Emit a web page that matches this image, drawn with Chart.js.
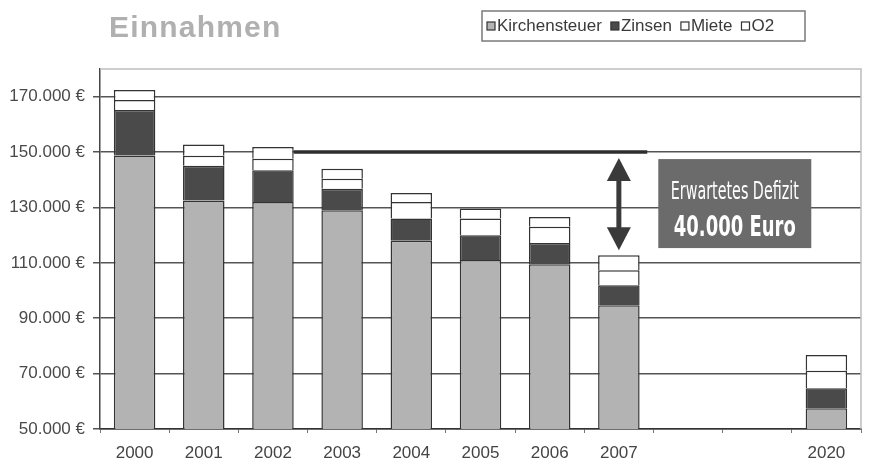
<!DOCTYPE html>
<html>
<head>
<meta charset="utf-8">
<script src="https://cdn.jsdelivr.net/npm/chart.js@4"></script>
<style>
html, body { margin: 0; padding: 0; background: #fff; }
</style>
</head>
<body>
<canvas id="chart" width="869" height="464"></canvas>
<script>
// Einnahmen, gestapelt, in Euro
const years = ['2000', '2001', '2002', '2003', '2004', '2005', '2006', '2007', '', '', '2020'];
const kirchensteuer = [148800, 132500, 132000, 129000, 118000, 111000, 109500, 94700, null, null, 57500];
const zinsen = [16400, 12600, 11400, 7800, 8000, 9000, 7700, 7200, null, null, 7200];
const miete = [3600, 3600, 4200, 3600, 6000, 6000, 5800, 5400, null, null, 6300];
const o2 = [3600, 4000, 4200, 3600, 3200, 3600, 3600, 5400, null, null, 5700];
const yTicks = [50000, 70000, 90000, 110000, 130000, 150000, 170000];
const deficitLevel = 150000;
const deficitLabel = ['Erwartetes Defizit', '40.000 Euro'];

const seriesNames = ['Kirchensteuer', 'Zinsen', 'Miete', 'O2'];
const seriesColors = ['#b3b3b3', '#4a4a4a', '#ffffff', '#ffffff'];

function euro(v) {
    return String(v).replace(/\B(?=(\d{3})+(?!\d))/g, '.') + ' €';
}

const frame = {
    id: 'frame',
    beforeDatasetsDraw(chart) {
        const a = chart.chartArea;
        const c = chart.ctx;
        c.save();
        c.strokeStyle = '#bdbdbd';
        c.lineWidth = 1.5;
        c.beginPath();
        c.moveTo(a.left, a.top);
        c.lineTo(a.right, a.top);
        c.lineTo(a.right, a.bottom);
        c.stroke();
        c.restore();
    }
};

const deficit = {
    id: 'deficit',
    afterDatasetsDraw(chart) {
        const c = chart.ctx;
        const x = chart.scales.x;
        const y = chart.scales.y;
        const catW = x.getPixelForValue(1) - x.getPixelForValue(0);
        const yDef = y.getPixelForValue(deficitLevel);
        const bar2002 = chart.getDatasetMeta(3).data[2];
        const x2007 = x.getPixelForValue(7);
        const top2007 = chart.getDatasetMeta(3).data[7].y;

        c.save();
        // Linie auf Niveau 2002
        c.strokeStyle = '#2e2e2e';
        c.lineWidth = 3.5;
        c.beginPath();
        c.moveTo(bar2002.x + bar2002.width / 2, yDef);
        c.lineTo(x2007 + 0.41 * catW, yDef);
        c.stroke();

        // Doppelpfeil
        const ax = x2007;
        const t = yDef + 6;
        const b = top2007 - 5;
        const hh = 23, hw = 12;
        c.fillStyle = '#3a3a3a';
        c.strokeStyle = '#3a3a3a';
        c.lineWidth = 5;
        c.beginPath();
        c.moveTo(ax, t + hh - 2);
        c.lineTo(ax, b - hh + 2);
        c.stroke();
        c.beginPath();
        c.moveTo(ax, t);
        c.lineTo(ax + hw, t + hh);
        c.lineTo(ax - hw, t + hh);
        c.closePath();
        c.fill();
        c.beginPath();
        c.moveTo(ax, b);
        c.lineTo(ax + hw, b - hh);
        c.lineTo(ax - hw, b - hh);
        c.closePath();
        c.fill();

        // Kasten
        const bx = x2007 + 0.57 * catW;
        const by = yDef + 7;
        const bw = 153, bh = 89;
        c.fillStyle = '#6b6b6b';
        c.fillRect(bx, by, bw, bh);
        c.fillStyle = '#ffffff';
        c.textAlign = 'center';
        c.textBaseline = 'middle';
        c.font = '25px "Liberation Sans Narrow", "DejaVu Sans Condensed", sans-serif';
        c.fillText(deficitLabel[0], bx + bw / 2, by + 33, 128);
        c.font = 'bold 28px "Liberation Sans Narrow", "DejaVu Sans Condensed", sans-serif';
        c.fillText(deficitLabel[1], bx + bw / 2, by + 70, 122);
        c.restore();
    }
};

const header = {
    id: 'header',
    afterDraw(chart) {
        const c = chart.ctx;
        c.save();
        // Titel
        c.fillStyle = '#b0b0b0';
        c.font = 'bold 30px "Liberation Sans", Arial, sans-serif';
        c.letterSpacing = '1.2px';
        c.textAlign = 'left';
        c.textBaseline = 'alphabetic';
        c.fillText('Einnahmen', 109, 37);
        c.letterSpacing = '0px';

        // Legende
        c.font = '17px "Liberation Sans", Arial, sans-serif';
        c.textBaseline = 'middle';
        const left = 482, top = 11, right = 805, bottom = 41;
        c.strokeStyle = '#7a7a7a';
        c.lineWidth = 1.5;
        c.strokeRect(left, top, right - left, bottom - top);
        let px = 487;
        const cy = (top + bottom) / 2;
        seriesNames.forEach((name, i) => {
            c.fillStyle = seriesColors[i];
            c.fillRect(px, cy - 4, 8, 8);
            c.strokeStyle = '#333';
            c.lineWidth = 1.2;
            c.strokeRect(px, cy - 4, 8, 8);
            c.fillStyle = '#3a3a3a';
            c.fillText(name, px + 10, cy);
            px += 10 + c.measureText(name).width + 9;
        });
        c.restore();
    }
};

new Chart(document.getElementById('chart'), {
    type: 'bar',
    data: {
        labels: years,
        datasets: [kirchensteuer, zinsen, miete, o2].map((d, i) => ({
            label: seriesNames[i],
            data: d,
            backgroundColor: seriesColors[i],
            borderColor: '#333',
            borderWidth: 1.5,
            barPercentage: 0.6,
            categoryPercentage: 1.0
        }))
    },
    options: {
        responsive: false,
        animation: false,
        devicePixelRatio: 1,
        layout: {
            padding: { top: 69, right: 8, left: 0, bottom: 0 }
        },
        plugins: {
            legend: { display: false },
            title: { display: false },
            tooltip: { enabled: false }
        },
        scales: {
            x: {
                stacked: true,
                afterFit: function(scale) { scale.height = 35; },
                grid: {
                    offset: true,
                    drawOnChartArea: false,
                    tickLength: 4,
                    color: '#777'
                },
                border: { display: true, color: '#333', width: 1.5 },
                ticks: {
                    color: '#444',
                    padding: 10,
                    maxRotation: 0,
                    autoSkip: false,
                    font: { size: 17, family: '"Liberation Sans", Arial, sans-serif' }
                }
            },
            y: {
                stacked: true,
                min: 50000,
                max: 180000,
                afterFit: function(scale) { scale.width = 100; },
                afterBuildTicks: function(scale) {
                    scale.ticks = yTicks.map(v => ({ value: v }));
                },
                grid: {
                    color: '#555',
                    lineWidth: 1.5,
                    tickLength: 7
                },
                border: { display: true, color: '#444', width: 1.5 },
                ticks: {
                    color: '#4a4a4a',
                    padding: 8,
                    font: { size: 17, family: '"Liberation Sans", Arial, sans-serif' },
                    callback: function(value) { return euro(value); }
                }
            }
        }
    },
    plugins: [frame, deficit, header]
});
</script>
</body>
</html>
